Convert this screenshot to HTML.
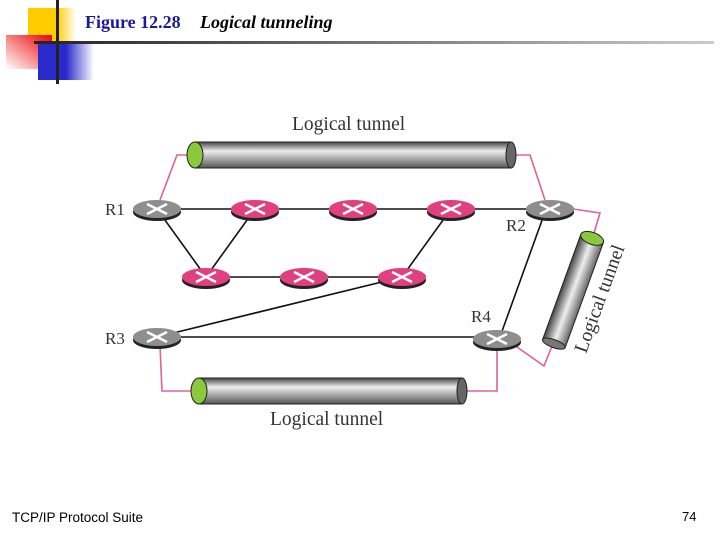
<!DOCTYPE html>
<html><head><meta charset="utf-8"><style>
html,body{margin:0;padding:0;background:#fff;}
body{width:720px;height:540px;position:relative;overflow:hidden;}
</style></head><body>
<svg width="720" height="540" viewBox="0 0 720 540" xmlns="http://www.w3.org/2000/svg" style="position:absolute;left:0;top:0">
<defs>
<linearGradient id="gy" x1="0" y1="0" x2="1" y2="0"><stop offset="0" stop-color="#ffcc00"/><stop offset="0.6" stop-color="#ffcc00"/><stop offset="1" stop-color="#fff"/></linearGradient>
<linearGradient id="gr" x1="1" y1="0" x2="0" y2="1"><stop offset="0" stop-color="#e00"/><stop offset="1" stop-color="#fff"/></linearGradient>
<linearGradient id="gb" x1="0" y1="0" x2="1" y2="0"><stop offset="0" stop-color="#2a2acc"/><stop offset="0.5" stop-color="#2a2acc"/><stop offset="1" stop-color="#fff"/></linearGradient>
<linearGradient id="gl" x1="0" y1="0" x2="1" y2="0"><stop offset="0" stop-color="#222"/><stop offset="1" stop-color="#ccc"/></linearGradient>
<linearGradient id="tube" x1="0" y1="0" x2="0" y2="1"><stop offset="0" stop-color="#444"/><stop offset="0.35" stop-color="#eee"/><stop offset="1" stop-color="#555"/></linearGradient>
<linearGradient id="tubeR" x1="0" y1="0" x2="1" y2="0"><stop offset="0" stop-color="#444"/><stop offset="0.5" stop-color="#eee"/><stop offset="1" stop-color="#666"/></linearGradient>
</defs>
<rect x="28" y="8" width="48" height="36" fill="url(#gy)"/>
<rect x="6" y="35" width="46" height="34" fill="url(#gr)"/>
<rect x="38" y="44" width="56" height="36" fill="url(#gb)"/>
<rect x="56" y="0" width="3" height="84" fill="#222"/>
<rect x="34" y="41" width="680" height="3" fill="url(#gl)"/>
<text x="85" y="28" font-family="Liberation Serif,serif" font-weight="bold" font-size="18" fill="#1a1a99">Figure 12.28</text>
<text x="200" y="28" font-family="Liberation Serif,serif" font-weight="bold" font-style="italic" font-size="18" fill="#000">Logical tunneling</text>

<g stroke="#111" stroke-width="1.6">
<line x1="157" y1="209" x2="550" y2="209"/>
<line x1="157" y1="209" x2="206" y2="277"/>
<line x1="255" y1="209" x2="206" y2="277"/>
<line x1="206" y1="277" x2="402" y2="277"/>
<line x1="451" y1="209" x2="402" y2="277"/>
<line x1="402" y1="277" x2="157" y2="337"/>
<line x1="157" y1="337" x2="497" y2="337"/>
<line x1="545" y1="212" x2="501" y2="334"/>
</g>
<g stroke="#e0609a" stroke-width="1.6" fill="none">
<polyline points="160,200 177,155 190,155"/>
<polyline points="511,155 530,155 545,200"/>
<polyline points="573,209 600,213 594,233"/>
<polyline points="517,347 544,366 552,346"/>
<polyline points="160,346 162,391 193,391"/>
<polyline points="462,391 497,391 497,348"/>
</g>
<rect x="195" y="142" width="316" height="26" fill="url(#tube)" stroke="#222"/>
<ellipse cx="511" cy="155" rx="5" ry="13" fill="#666" stroke="#222"/>
<ellipse cx="195" cy="155" rx="8" ry="13" fill="#8cc83c" stroke="#222"/>
<rect x="199" y="378" width="263" height="26" fill="url(#tube)" stroke="#222"/>
<ellipse cx="462" cy="391" rx="5" ry="13" fill="#666" stroke="#222"/>
<ellipse cx="199" cy="391" rx="8" ry="13" fill="#8cc83c" stroke="#222"/>
<g transform="translate(573,291) rotate(20)">
<rect x="-12" y="-56" width="24" height="112" fill="url(#tubeR)" stroke="#222"/>
<ellipse cx="0" cy="56" rx="12" ry="4" fill="#777" stroke="#222"/>
<ellipse cx="0" cy="-56" rx="12" ry="6" fill="#8cc83c" stroke="#222"/>
</g>
<text transform="translate(586,354) rotate(-70)" font-family="Liberation Serif,serif" font-size="19.5" fill="#333">Logical tunnel</text>
<text x="292" y="130" font-family="Liberation Serif,serif" font-size="19.5" fill="#333">Logical tunnel</text>
<text x="270" y="425" font-family="Liberation Serif,serif" font-size="19.5" fill="#333">Logical tunnel</text>

<g font-family="Liberation Serif,serif" font-size="17" fill="#333">
<text x="105" y="215">R1</text><text x="506" y="231">R2</text>
<text x="105" y="344">R3</text><text x="471" y="322">R4</text>
</g>
<g>
<g transform="translate(157,209)"><ellipse cx="0" cy="3" rx="24" ry="9" fill="#222"/><ellipse cx="0" cy="0" rx="24" ry="9" fill="#8e8e8e"/><path d="M-10-5L10 5M-10 5L10-5" stroke="#fff" stroke-width="2.5"/></g>
<g transform="translate(550,209)"><ellipse cx="0" cy="3" rx="24" ry="9" fill="#222"/><ellipse cx="0" cy="0" rx="24" ry="9" fill="#8e8e8e"/><path d="M-10-5L10 5M-10 5L10-5" stroke="#fff" stroke-width="2.5"/></g>
<g transform="translate(157,337)"><ellipse cx="0" cy="3" rx="24" ry="9" fill="#222"/><ellipse cx="0" cy="0" rx="24" ry="9" fill="#8e8e8e"/><path d="M-10-5L10 5M-10 5L10-5" stroke="#fff" stroke-width="2.5"/></g>
<g transform="translate(497,339)"><ellipse cx="0" cy="3" rx="24" ry="9" fill="#222"/><ellipse cx="0" cy="0" rx="24" ry="9" fill="#8e8e8e"/><path d="M-10-5L10 5M-10 5L10-5" stroke="#fff" stroke-width="2.5"/></g>
<g transform="translate(255,209)"><ellipse cx="0" cy="3" rx="24" ry="9" fill="#222"/><ellipse cx="0" cy="0" rx="24" ry="9" fill="#e0407f"/><path d="M-10-5L10 5M-10 5L10-5" stroke="#fff" stroke-width="2.5"/></g>
<g transform="translate(353,209)"><ellipse cx="0" cy="3" rx="24" ry="9" fill="#222"/><ellipse cx="0" cy="0" rx="24" ry="9" fill="#e0407f"/><path d="M-10-5L10 5M-10 5L10-5" stroke="#fff" stroke-width="2.5"/></g>
<g transform="translate(451,209)"><ellipse cx="0" cy="3" rx="24" ry="9" fill="#222"/><ellipse cx="0" cy="0" rx="24" ry="9" fill="#e0407f"/><path d="M-10-5L10 5M-10 5L10-5" stroke="#fff" stroke-width="2.5"/></g>
<g transform="translate(206,277)"><ellipse cx="0" cy="3" rx="24" ry="9" fill="#222"/><ellipse cx="0" cy="0" rx="24" ry="9" fill="#e0407f"/><path d="M-10-5L10 5M-10 5L10-5" stroke="#fff" stroke-width="2.5"/></g>
<g transform="translate(304,277)"><ellipse cx="0" cy="3" rx="24" ry="9" fill="#222"/><ellipse cx="0" cy="0" rx="24" ry="9" fill="#e0407f"/><path d="M-10-5L10 5M-10 5L10-5" stroke="#fff" stroke-width="2.5"/></g>
<g transform="translate(402,277)"><ellipse cx="0" cy="3" rx="24" ry="9" fill="#222"/><ellipse cx="0" cy="0" rx="24" ry="9" fill="#e0407f"/><path d="M-10-5L10 5M-10 5L10-5" stroke="#fff" stroke-width="2.5"/></g>
</g>
<text x="12" y="522" font-family="Liberation Sans,sans-serif" font-size="13.5" fill="#000">TCP/IP Protocol Suite</text>
<text x="682" y="521" font-family="Liberation Sans,sans-serif" font-size="13" fill="#000">74</text>
</svg>
</body></html>
